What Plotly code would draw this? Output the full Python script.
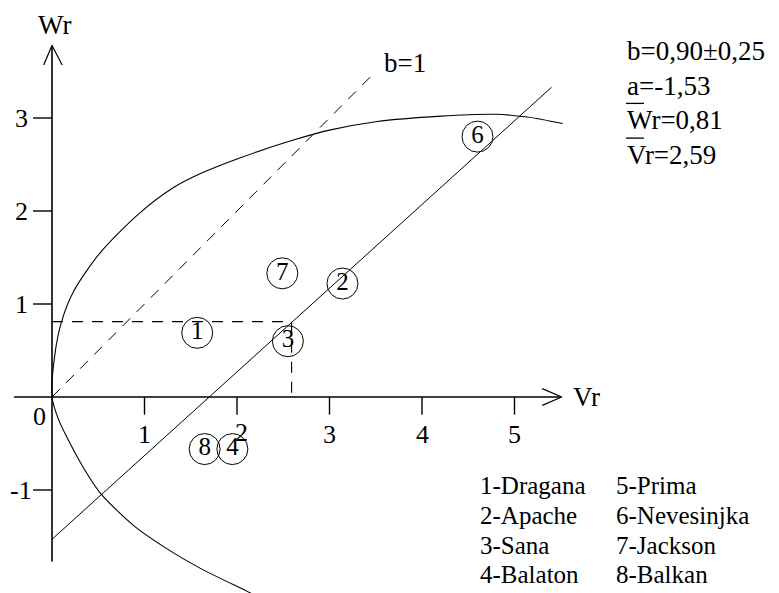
import plotly.graph_objects as go

# Wr/Vr regression analysis
b_slope = 0.90
b_se = 0.25
a_intercept = -1.53
wr_mean = 0.81
vr_mean = 2.59

# genotype points (Vr, Wr)
point_ids = ["1", "2", "3", "4", "6", "7", "8"]
point_vr = [1.57, 3.14, 2.55, 1.95, 4.60, 2.49, 1.65]
point_wr = [0.69, 1.22, 0.60, -0.56, 2.80, 1.33, -0.56]

# limiting curve, traced points (Vr, Wr)
curve_vr = [2.25, 2.11, 1.60, 1.24, 0.88, 0.52, 0.34, 0.16, 0.07, 0.0, 0.03, 0.10, 0.23,
            0.52, 0.95, 1.31, 1.60, 2.03, 2.60, 3.00, 3.50, 4.20, 4.80, 5.14, 5.52]
curve_wr = [-2.16, -2.09, -1.84, -1.63, -1.38, -1.03, -0.76, -0.43, -0.24, 0.0, 0.45, 0.80, 1.13,
            1.55, 1.98, 2.25, 2.40, 2.57, 2.76, 2.87, 2.96, 3.02, 3.04, 3.01, 2.94]

x_ticks = [1, 2, 3, 4, 5]
y_ticks = [-1, 1, 2, 3]

legend_left = ["1-Dragana", "2-Apache", "3-Sana", "4-Balaton"]
legend_right = ["5-Prima", "6-Nevesinjka", "7-Jackson", "8-Balkan"]

FONT = "Liberation Serif"
BLACK = "#000000"
DASH = "11px,9px"
W, H = 779, 593

fig = go.Figure()


def seg(x, y, width=1.0, dash="solid"):
    fig.add_trace(go.Scatter(x=x, y=y, mode="lines", hoverinfo="skip",
                             line=dict(color=BLACK, width=width, dash=dash)))


# axes with arrows
x_lo, x_hi = -0.41, 5.51
y_lo, y_hi = -1.77, 3.78
seg([x_lo, x_hi], [0, 0], width=1.6)
seg([0, 0], [y_lo, y_hi], width=1.6)
seg([x_hi - 0.21, x_hi, x_hi - 0.21], [0.09, 0, -0.09], width=1.2)
seg([-0.09, 0, 0.11], [y_hi - 0.21, y_hi, y_hi - 0.21], width=1.2)

# tick marks
for t in x_ticks:
    seg([t, t], [0, -0.19], width=1.4)
for t in y_ticks:
    seg([-0.205, 0], [t, t], width=1.4)

# limiting curve
fig.add_trace(go.Scatter(x=curve_vr, y=curve_wr, mode="lines", hoverinfo="skip",
                         line=dict(color=BLACK, width=1.1, shape="spline", smoothing=0.8)))

# b = 1 reference line
seg([0, 3.46], [0, 3.46], width=1.0, dash=DASH)

# regression line Wr = a + b*Vr
reg_x = [0, 5.40]
reg_y = [a_intercept + b_slope * v for v in reg_x]
seg(reg_x, reg_y, width=1.0)

# means
seg([0, vr_mean], [wr_mean, wr_mean], width=1.1, dash=DASH)
seg([vr_mean, vr_mean], [wr_mean, 0], width=1.1, dash=DASH)

# genotype markers
fig.add_trace(go.Scatter(
    x=point_vr, y=point_wr, mode="markers+text", text=point_ids,
    textposition="middle center", hoverinfo="skip",
    textfont=dict(family=FONT, size=25, color=BLACK),
    marker=dict(symbol="circle-open", size=31, color=BLACK, line=dict(width=1, color=BLACK)),
))

annotations = []
shapes = []


def label(x, y, txt, size=26, xanchor="center", xshift=0, yshift=0):
    annotations.append(dict(x=x, y=y, xref="x", yref="y", text=txt, showarrow=False,
                            xanchor=xanchor, yanchor="middle", xshift=xshift, yshift=yshift,
                            font=dict(family=FONT, size=size, color=BLACK)))


def page_text(xp, yp, txt, size=26):
    annotations.append(dict(x=xp / W, y=1 - yp / H, xref="paper", yref="paper", text=txt,
                            showarrow=False, xanchor="left", yanchor="middle",
                            font=dict(family=FONT, size=size, color=BLACK)))


for t in x_ticks:
    label(t, 0, str(t), yshift=-37 if t != 2 else -35, xshift=4 if t == 2 else 0)
for t in y_ticks:
    label(0, t, str(t), xshift=-31)
label(0, 0, "0", xshift=-13, yshift=-19)
label(0, y_hi, "Wr", size=27, yshift=20, xshift=2)
label(x_hi, 0, "Vr", size=27, xanchor="left", xshift=9)
label(3.46, 3.46, "b=1", size=27, xanchor="left", xshift=10, yshift=12)

# statistics block
stats = [f"b={b_slope:.2f}±{b_se:.2f}".replace(".", ","),
         f"a={a_intercept:.2f}".replace(".", ","),
         f"Wr={wr_mean:.2f}".replace(".", ","),
         f"Vr={vr_mean:.2f}".replace(".", ",")]
stat_x = 625
stat_rows = [51 + 34.7 * i for i in range(len(stats))]
for s, yp in zip(stats, stat_rows):
    page_text(stat_x, yp, s, size=27)
# bars over the mean symbols
for yp in stat_rows[2:]:
    shapes.append(dict(type="line", xref="paper", yref="paper",
                       x0=(stat_x + 1) / W, x1=(stat_x + 19) / W,
                       y0=1 - (yp - 17) / H, y1=1 - (yp - 17) / H,
                       line=dict(color=BLACK, width=1.3)))

# genotype key
for i, (l, r) in enumerate(zip(legend_left, legend_right)):
    yp = 486 + 29.5 * i
    page_text(478, yp, l, size=25)
    page_text(614, yp, r, size=25)

px_per_x = 92.5
px_per_y = 93.0
origin_px = (52, 397)

fig.update_layout(
    width=W, height=H,
    margin=dict(l=0, r=0, t=0, b=0),
    paper_bgcolor="white", plot_bgcolor="white",
    showlegend=False,
    annotations=annotations,
    shapes=shapes,
    xaxis=dict(range=[-origin_px[0] / px_per_x, (W - origin_px[0]) / px_per_x],
               visible=False, fixedrange=True),
    yaxis=dict(range=[-(H - origin_px[1]) / px_per_y, origin_px[1] / px_per_y],
               visible=False, fixedrange=True),
)

fig.write_html("out.html")
